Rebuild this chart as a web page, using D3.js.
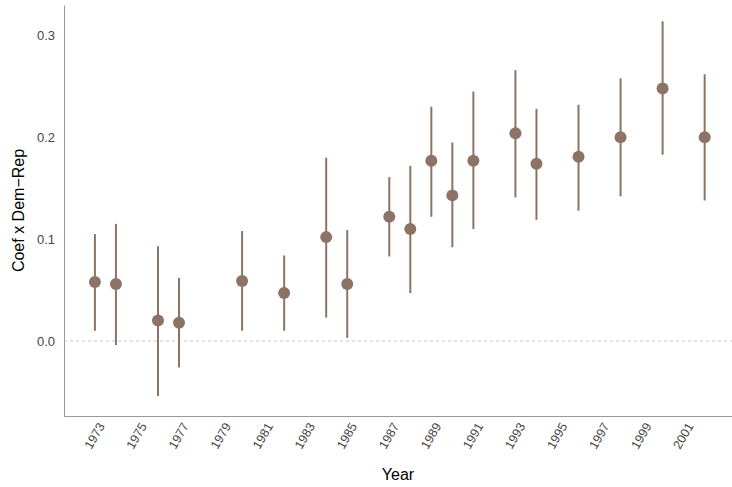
<!DOCTYPE html>
<html><head><meta charset="utf-8">
<script src="https://cdn.jsdelivr.net/npm/d3@7"></script>
<style>body{margin:0;background:#fff;font-family:"Liberation Sans",Arial,sans-serif}</style>
</head><body><div id="chart"></div>
<script>
const years = [1973,1974,1976,1977,1980,1982,1984,1985,1987,1988,1989,1990,1991,1993,1994,1996,1998,2000,2002];
const coef  = [0.058,0.056,0.020,0.018,0.059,0.047,0.102,0.056,0.122,0.110,0.177,0.143,0.177,0.204,0.174,0.181,0.200,0.248,0.200];
const lower = [0.010,-0.004,-0.054,-0.026,0.010,0.010,0.023,0.003,0.083,0.047,0.122,0.092,0.110,0.141,0.119,0.128,0.142,0.183,0.138];
const upper = [0.105,0.115,0.093,0.062,0.108,0.084,0.180,0.109,0.161,0.172,0.230,0.195,0.245,0.266,0.228,0.232,0.258,0.314,0.262];
const xTicks = d3.range(1973, 2002, 2);
const yTicks = [0.0, 0.1, 0.2, 0.3];

const W = 732, H = 487, m = {left: 64, right: 0, top: 5, bottom: 71};
const svg = d3.select('#chart').append('svg').attr('width', W).attr('height', H);
const x = d3.scaleLinear().domain([1971.53, 2003.3]).range([m.left, W - m.right]);
const y = d3.scaleLinear().domain([-0.0737, 0.33]).range([H - m.bottom, m.top]);
const col = '#8c7366';

svg.append('line').attr('x1', m.left).attr('x2', W).attr('y1', y(0)).attr('y2', y(0))
  .attr('stroke', '#c8c8c8').attr('stroke-dasharray', '3,3');

const xa = svg.append('g').attr('transform', `translate(0,${H - m.bottom})`)
  .call(d3.axisBottom(x).tickValues(xTicks).tickFormat(d3.format('d')).tickSize(0).tickPadding(6));
xa.selectAll('text').attr('transform', 'rotate(-60)').attr('text-anchor', 'end')
  .attr('dx', '-0.3em').attr('dy', '0.6em').attr('font-size', 12.5).attr('fill', '#444');
const ya = svg.append('g').attr('transform', `translate(${m.left},0)`)
  .call(d3.axisLeft(y).tickValues(yTicks).tickFormat(d3.format('.1f')).tickSize(0).tickPadding(9));
ya.selectAll('text').attr('font-size', 13).attr('fill', '#444');
svg.selectAll('.domain').attr('stroke', '#999');

const g = svg.append('g');
years.forEach((yr, i) => {
  g.append('line').attr('x1', x(yr)).attr('x2', x(yr)).attr('y1', y(lower[i])).attr('y2', y(upper[i]))
    .attr('stroke', col).attr('stroke-width', 2);
  g.append('circle').attr('cx', x(yr)).attr('cy', y(coef[i])).attr('r', 6).attr('fill', col);
});

svg.append('text').attr('x', (m.left + W) / 2).attr('y', 480).attr('text-anchor', 'middle')
  .attr('font-size', 16).text('Year');
svg.append('text').attr('transform', `translate(24,${(m.top + H - m.bottom) / 2}) rotate(-90)`)
  .attr('text-anchor', 'middle').attr('font-size', 16).text('Coef x Dem\u2212Rep');
</script></body></html>
